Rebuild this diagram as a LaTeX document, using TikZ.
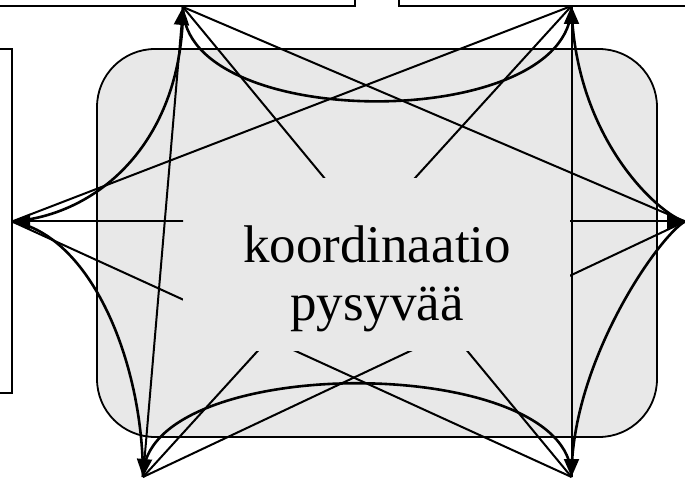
\documentclass[tikz,border=0pt]{standalone}
\usepackage{fontspec}
\setmainfont{Liberation Serif}
\usetikzlibrary{arrows.meta}
\definecolor{boxgray}{HTML}{E8E8E8}
\tikzset{
  link/.style={line width=2pt},
  bendlink/.style={line width=2.6pt},
  headtip/.tip={Triangle[length=18pt,width=15pt]},
  twohead/.style={headtip-headtip},
  frame/.style={draw, line width=1.8pt},
  bigtext/.style={anchor=base, inner sep=0pt, font=\fontsize{53}{58}\selectfont},
}
\begin{document}
\begin{tikzpicture}[x=1pt,y=-1pt]
\useasboundingbox (0,0) rectangle (685,478);
% central rounded panel
\draw[frame, fill=boxgray, rounded corners=58pt] (97,49) rectangle (657,437);
% end points
\coordinate (T1) at (183,7);
\coordinate (T2) at (571.5,6);
\coordinate (L) at (12,221.5);
\coordinate (R) at (685,221.5);
\coordinate (B1) at (143,477);
\coordinate (B2) at (571.5,477);
% straight links
\draw[link] (T1) -- (B2);
\draw[link] (T1) -- (R);
\draw[link] (T2) -- (L);
\draw[link] (T2) -- (B1);
\draw[link] (L) -- (B2);
\draw[link] (B1) -- (R);
% curved links
\draw[bendlink] (T1) .. controls (183,133) and (571.5,133) .. (T2);
\draw[bendlink] (B1) .. controls (143,352) and (571.5,352) .. (B2);
\draw[bendlink] (T1) .. controls (183,140) and (100,215) .. (L);
\draw[bendlink] (L) .. controls (90,235) and (143,360) .. (B1);
\draw[bendlink] (T2) .. controls (575,140) and (660,215) .. (R);
\draw[bendlink] (R) .. controls (660,235) and (571.5,360) .. (B2);
% cover behind the text
\node[fill=boxgray, inner sep=0pt, minimum width=386.5pt, minimum height=173pt] (cover) at (376.5,264.5) {};
% arrowed links (drawn over the cover where visible)
\draw[link, twohead] (T1) -- (B1);
\draw[link, twohead] (T2) -- (B2);
\begin{scope}
\clip (0,0) rectangle (183,478) (570,0) rectangle (685,478);
\draw[link, twohead] (L) -- (R);
\end{scope}
\node[bigtext] (line1) at (377,262) {koordinaatio};
\node[bigtext] (line2) at (377,320) {pysyvää};
% surrounding boxes
\draw[frame] (-10,-10) rectangle (355,6);
\draw[frame] (399,-10) rectangle (695,6);
\draw[frame] (-10,49) rectangle (12,393);
\end{tikzpicture}
\end{document}
